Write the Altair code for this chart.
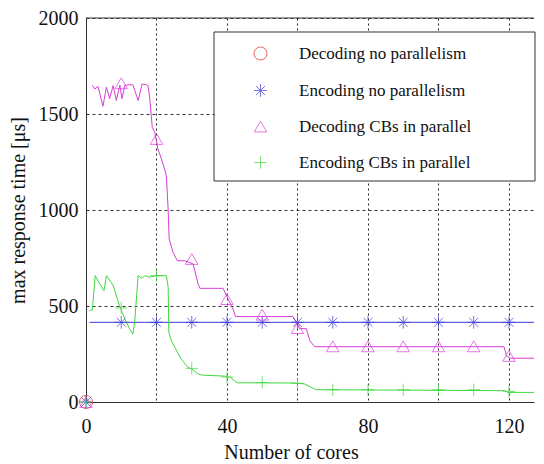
import altair as alt
import pandas as pd

# ---- data ----
series_names = ["Decoding no parallelism", "Encoding no parallelism",
                "Decoding CBs in parallel", "Encoding CBs in parallel"]
series_colors = ["#e52222", "#3a3ad8", "#d83ed8", "#3ed83e"]
series_shapes = [
    "circle",
    "M0,-1L0,1M-1,0L1,0M-0.7,-0.7L0.7,0.7M-0.7,0.7L0.7,-0.7",
    "triangle-up",
    "M-1,0L1,0M0,-1L0,1",
]
series_sizes = [170, 150, 260, 200]

# Encoding no parallelism (line)
enc_np_x = [1, 130]
enc_np_y = [415, 415]

# Decoding CBs in parallel (line)
dec_cb_x = [1.8, 2.5, 3.4, 4.8, 5.8, 6.7, 7.7, 8.6, 9.6, 10.2, 11.0, 11.9, 13.3, 14.8,
            15.9, 17.1, 17.6, 18.1, 18.8, 19.5, 20.4, 21.4, 22.3, 22.8, 23.3, 23.6, 24.7,
            25.9, 28.0, 30.4, 31.8, 32.3, 38.9, 40.3, 41.7, 42.4, 58.7, 60.6, 62.5, 63.5,
            64.9, 118.6, 119.3, 120.4, 127.6, 128.2, 129.4, 130]
dec_cb_y = [1650, 1630, 1645, 1540, 1640, 1580, 1648, 1570, 1650, 1580, 1648, 1652, 1652,
            1570, 1656, 1652, 1648, 1580, 1430, 1405, 1318, 1266, 1213, 1179, 1005, 849,
            780, 736, 736, 719, 615, 592, 592, 536, 484, 445, 445, 382, 382, 319, 288, 288,
            240, 228, 228, 207, 155, 130]

# Encoding CBs in parallel (line)
enc_cb_x = [1.0, 1.8, 2.6, 3.9, 5.1, 5.8, 7.7, 9.5, 11.0, 12.4, 13.3, 13.8, 14.8, 15.8,
            16.8, 18.0, 20.0, 22.8, 23.3, 23.5, 24.2, 25.2, 27.0, 28.9, 30.0, 31.8, 33.0,
            39.3, 41.0, 42.2, 43.0, 59.2, 62.0, 65.3, 118.8, 119.7, 127.8, 129.4, 130]
enc_cb_y = [476, 480, 658, 615, 580, 658, 607, 502, 432, 380, 354, 415, 658, 645, 658, 650,
            658, 658, 600, 363, 320, 285, 224, 181, 172, 146, 140, 135, 128, 110, 100, 99,
            94, 64, 59, 50, 50, 30, 20]

# markers
mk_x = [0, 10, 20, 30, 40, 50, 60, 70, 80, 90, 100, 110, 120]
dec_np_mk_x = [0]
dec_np_mk_y = [0]
enc_np_mk_y = [0, 415, 415, 415, 415, 415, 415, 415, 415, 415, 415, 415, 415]
dec_cb_mk_y = [0, 1660, 1370, 745, 536, 455, 385, 290, 290, 290, 290, 290, 240]
enc_cb_mk_y = [0, 490, 658, 175, 130, 102, 97, 64, 64, 64, 64, 64, 55]

x_ticks = [0, 20, 40, 60, 80, 100, 120]
y_ticks = [0, 500, 1000, 1500, 2000]

# ---- tables ----
lines = pd.concat([
    pd.DataFrame({"s": series_names[1], "x": enc_np_x, "y": enc_np_y, "o": range(len(enc_np_x))}),
    pd.DataFrame({"s": series_names[2], "x": dec_cb_x, "y": dec_cb_y, "o": range(len(dec_cb_x))}),
    pd.DataFrame({"s": series_names[3], "x": enc_cb_x, "y": enc_cb_y, "o": range(len(enc_cb_x))}),
])
marks = pd.concat([
    pd.DataFrame({"s": series_names[0], "x": dec_np_mk_x, "y": dec_np_mk_y}),
    pd.DataFrame({"s": series_names[1], "x": mk_x, "y": enc_np_mk_y}),
    pd.DataFrame({"s": series_names[2], "x": mk_x, "y": dec_cb_mk_y}),
    pd.DataFrame({"s": series_names[3], "x": mk_x, "y": enc_cb_mk_y}),
])

FONT = "Liberation Serif"
W, H = 448, 384

xscale = alt.Scale(domain=[0, 127.1], nice=False, zero=False)
yscale = alt.Scale(domain=[0, 2000], nice=False)
cscale = alt.Scale(domain=series_names, range=series_colors)
sscale = alt.Scale(domain=series_names, range=series_shapes)
zscale = alt.Scale(domain=series_names, range=series_sizes)

xaxis = alt.Axis(values=x_ticks,
                 labelExpr="datum.value % 40 === 0 ? datum.label : ''",
                 grid=True, gridDash=[2, 3], gridColor="#222", gridOpacity=1,
                 ticks=False, domainColor="#333", labelFlush=False,
                 labelFont=FONT, labelFontSize=20, labelColor="#111", labelPadding=14,
                 title="Number of cores", titleFont=FONT, titleFontSize=20,
                 titleFontWeight="normal", titleColor="#111",
                 titleX=205, titleY=50, titleBaseline="middle", titleAlign="center")
yaxis = alt.Axis(values=y_ticks, format="d", grid=True, gridDash=[3, 3], gridColor="#333",
                 gridOpacity=1, ticks=False, domainColor="#333",
                 labelFont=FONT, labelFontSize=20, labelColor="#111", labelPadding=8,
                 title="max response time [μs]", titleFont=FONT, titleFontSize=20,
                 titleFontWeight="normal", titleColor="#111",
                 titleX=-68, titleY=192, titleAngle=270, titleBaseline="middle",
                 titleAlign="center")

box = alt.Chart(pd.DataFrame({"k": [0]})).mark_rect(
    fill="white", stroke="#333", strokeWidth=1
).encode(
    x=alt.value(128), x2=alt.value(449), y=alt.value(14), y2=alt.value(163)
)

top_border = alt.Chart(pd.DataFrame({"k": [0]})).mark_rule(
    color="#333", strokeWidth=1
).encode(x=alt.value(0), x2=alt.value(W), y=alt.value(0))

line_layer = alt.Chart(lines).mark_line(strokeWidth=1, clip=True).encode(
    x=alt.X("x:Q", scale=xscale, axis=xaxis),
    y=alt.Y("y:Q", scale=yscale, axis=yaxis),
    color=alt.Color("s:N", scale=cscale),
    detail="s:N",
    order="o:Q",
)

point_layer = alt.Chart(marks).mark_point(filled=False, strokeWidth=1).encode(
    x=alt.X("x:Q", scale=xscale),
    y=alt.Y("y:Q", scale=yscale),
    color=alt.Color("s:N", scale=cscale),
    shape=alt.Shape("s:N", scale=sscale),
    size=alt.Size("s:N", scale=zscale),
)

chart = alt.layer(box, top_border, line_layer, point_layer).properties(
    width=W, height=H,
    padding={"left": 0, "top": 0, "right": 0, "bottom": 0},
    background="white",
).configure_view(stroke=None).configure_legend(
    title=None, orient="none", legendX=166, legendY=27,
    labelFont=FONT, labelFontSize=17, labelColor="#111", labelLimit=400,
    symbolStrokeWidth=1, symbolFillColor="transparent",
    rowPadding=18, labelOffset=30, padding=0,
)

chart.save("out.html", embed_options={"renderer": "svg", "actions": False})
